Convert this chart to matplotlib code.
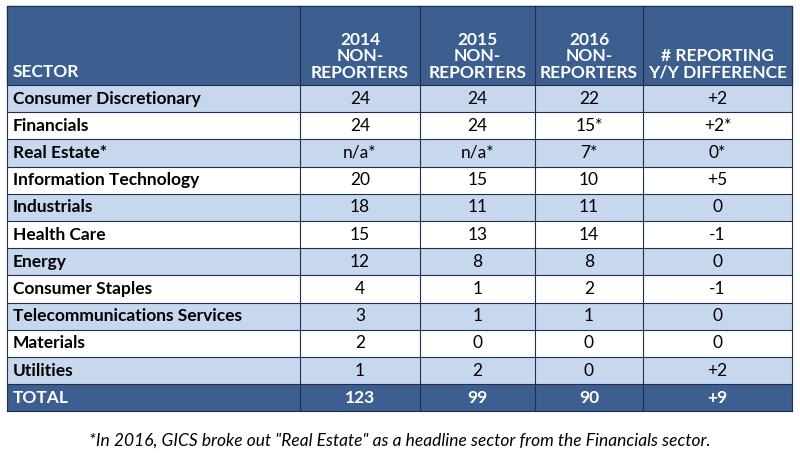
import matplotlib.pyplot as plt
from matplotlib.patches import Rectangle

sectors = ['Consumer Discretionary', 'Financials', 'Real Estate*', 'Information Technology',
           'Industrials', 'Health Care', 'Energy', 'Consumer Staples',
           'Telecommunications Services', 'Materials', 'Utilities']
y2014 = ['24', '24', 'n/a*', '20', '18', '15', '12', '4', '3', '2', '1']
y2015 = ['24', '24', 'n/a*', '15', '11', '13', '8', '1', '1', '0', '2']
y2016 = ['22', '15*', '7*', '10', '11', '14', '8', '2', '1', '0', '0']
diff = ['+2', '+2*', '0*', '+5', '0', '-1', '0', '-1', '0', '0', '+2']
total = ['TOTAL', '123', '99', '90', '+9']
headers = ['SECTOR', '2014\nNON-\nREPORTERS', '2015\nNON-\nREPORTERS', '2016\nNON-\nREPORTERS',
           '# REPORTING\nY/Y DIFFERENCE']
note = '*In 2016, GICS broke out "Real Estate" as a headline sector from the Financials sector.'

W, H = 800, 463
fig = plt.figure(figsize=(8, 4.63), dpi=100)
ax = fig.add_axes([0, 0, 1, 1])
ax.set_xlim(0, W)
ax.set_ylim(H, 0)
ax.axis('off')

dark = '#3D5F8F'
light = '#C6D7EE'
cols = [7, 300, 420, 535, 643, 792]
top, head_bot, rh = 6, 85, 27.2
plt.rcParams['font.family'] = ['Lato', 'DejaVu Sans']
fs = 12.5

# header
ax.add_patch(Rectangle((cols[0], top), cols[-1] - cols[0], head_bot - top, color=dark))
for i, h in enumerate(headers):
    if i == 0:
        ax.text(cols[0] + 6, head_bot - 5, h, color='white', fontsize=fs, fontweight='bold', va='bottom')
    else:
        ax.text((cols[i] + cols[i + 1]) / 2, head_bot - 4, h, color='white', fontsize=fs,
                fontweight='bold', ha='center', va='bottom', linespacing=1.05)

rows = [[s, a, b, c, d] for s, a, b, c, d in zip(sectors, y2014, y2015, y2016, diff)] + [total]
for r, row in enumerate(rows):
    y0 = head_bot + r * rh
    is_total = r == len(rows) - 1
    fc = dark if is_total else (light if r % 2 == 0 else 'white')
    ax.add_patch(Rectangle((cols[0], y0), cols[-1] - cols[0], rh, facecolor=fc, edgecolor='none'))
    for i, v in enumerate(row):
        tc = 'white' if is_total else 'black'
        if i == 0:
            ax.text(cols[0] + 6, y0 + rh / 2, v, color=tc, fontsize=fs, fontweight='bold', va='center')
        else:
            ax.text((cols[i] + cols[i + 1]) / 2, y0 + rh / 2, v, color=tc, fontsize=fs,
                    fontweight='bold' if is_total else 'normal', ha='center', va='center')

bottom = head_bot + len(rows) * rh
for r in range(len(rows) + 1):
    y = head_bot + r * rh
    ax.plot([cols[0], cols[-1]], [y, y], color='#1F2F4F', lw=0.8)
ax.plot([cols[0], cols[-1]], [top, top], color='#1F2F4F', lw=0.8)
for x in cols:
    ax.plot([x, x], [top, bottom], color='#1F2F4F', lw=0.8)

ax.text(W / 2, 441, note, fontsize=12.5, style='italic', ha='center', va='center')
fig.savefig('out.png', dpi=100)
